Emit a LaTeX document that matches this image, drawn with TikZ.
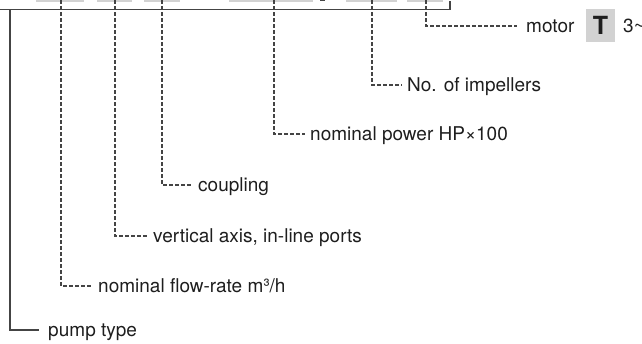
\documentclass[tikz,border=0pt]{standalone}
\usepackage{fontspec}
\setmainfont{TeX Gyre Heros}
\usetikzlibrary{calc}
\definecolor{linegrey}{HTML}{444444}
\definecolor{boxgrey}{HTML}{D2D2D2}
\definecolor{txt}{HTML}{1E1E1E}
\tikzset{
  solidline/.style={draw=linegrey, line width=1.3pt},
  dashline/.style={draw=linegrey, line width=1.1pt, dash pattern=on 3.5pt off 2.5pt},
  lbl/.style={anchor=west, inner ysep=0pt, inner xsep=5.5pt, text=txt,
    font=\fontsize{19}{22}\selectfont, text height=13.7pt, text depth=0pt},
  topbox/.style={fill=boxgrey, draw=none},
  tbox/.style={fill=boxgrey, draw=none, minimum width=29pt, minimum height=33pt,
    inner sep=0pt, text=txt, font=\fontsize{25}{28}\bfseries\selectfont}
}
\begin{document}
\begin{tikzpicture}[x=1pt,y=-1pt]
\useasboundingbox (0,0) rectangle (642,343);
% grey code boxes at the top (cut off)
\fill[topbox] (36,-8) rectangle (84,2);
\fill[topbox] (97,-8) rectangle (132,2);
\fill[topbox] (144,-8) rectangle (180,2);
\fill[topbox] (229,-8) rectangle (313,2);
\fill[topbox] (346,-8) rectangle (397,2);
\fill[topbox] (407,-8) rectangle (443,2);
\draw[draw=linegrey, line width=1pt] (320,0.8) -- (325,0.8);
% bracket
\coordinate (bl) at (0,9.3);
\coordinate (br) at (450,9.3);
\coordinate (brt) at (450,1);
\draw[solidline] (bl) -- (br) -- (brt);
% labels
\node[lbl, inner xsep=9pt] (motor) at (517,26) {motor};
\node[tbox] (tmark) at (600.5,25.5) {T};
\node[lbl, inner xsep=0pt] (three) at (623,26) {3\textasciitilde};
\node[lbl] (imp) at (401.5,85) {No. of impellers};
\node[lbl] (pow) at (304.5,134) {nominal power HP×100};
\node[lbl] (coup) at (192.5,185) {coupling};
\node[lbl] (vert) at (147.5,236) {vertical axis, in-line ports};
\node[lbl] (flow) at (92.5,286) {nominal flow-rate m³/h};
\node[lbl, inner xsep=9pt] (pump) at (39,330) {pump type};
% dashed leaders
\coordinate (tflow) at (61,0);
\coordinate (tvert) at (115,0);
\coordinate (tcoup) at (162,0);
\coordinate (tpow) at (274,0);
\coordinate (timp) at (372,0);
\coordinate (tmot) at (426,0);
\draw[dashline] (tflow) |- (flow.west);
\draw[dashline] (tvert) |- (vert.west);
\draw[dashline] (tcoup) |- (coup.west);
\draw[dashline] (tpow) |- (pow.west);
\draw[dashline] (timp) |- (imp.west);
\draw[dashline] (tmot) |- (motor.west);
% solid leader for pump type
\coordinate (tpump) at (10,9.3);
\draw[solidline] (tpump) |- (pump.west);
\end{tikzpicture}
\end{document}
